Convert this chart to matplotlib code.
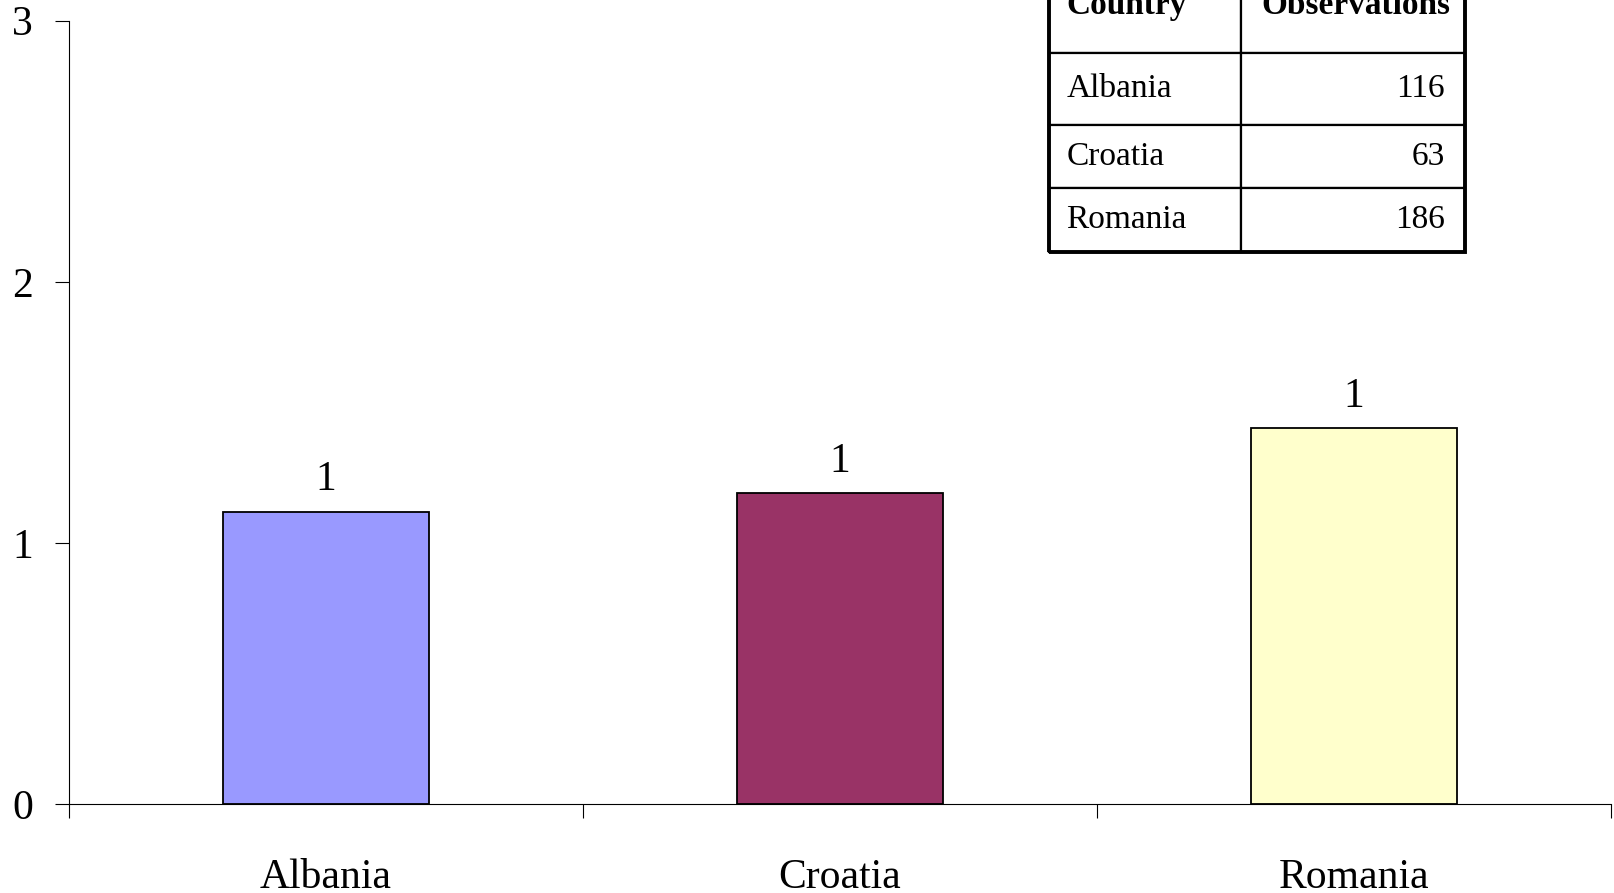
import numpy as np
import matplotlib.pyplot as plt
from matplotlib.patches import Rectangle

# data
countries = ['Albania', 'Croatia', 'Romania']
values = [1.12, 1.19, 1.44]
observations = [116, 63, 186]
bar_colors = ['#9999FF', '#993366', '#FFFFCC']

plt.rcParams['font.family'] = ['Liberation Serif', 'DejaVu Serif']

fig = plt.figure(figsize=(16.14, 8.93), dpi=100)
ax = fig.add_axes([69 / 1614, 89 / 893, 1542 / 1614, 783.3 / 893])

x = np.arange(len(countries)) + 0.5
bars = ax.bar(x, values, width=0.4, color=bar_colors, edgecolor='black', linewidth=1.3)
ax.bar_label(bars, fmt='%.0f', padding=9, fontsize=30)

ax.set_xlim(0, 3)
ax.set_ylim(0, 3)
ax.set_yticks([0, 1, 2, 3])
ax.set_xticks(x)
ax.set_xticklabels(countries)
ax.set_xticks([0, 1, 2, 3], minor=True)
ax.tick_params(axis='x', which='major', length=0, pad=39, labelsize=30)
ax.tick_params(axis='x', which='minor', length=10, width=0.8, direction='out')
ax.tick_params(axis='y', length=10, width=0.8, pad=16, labelsize=30)
for s in ['top', 'right']:
    ax.spines[s].set_visible(False)
for s in ['left', 'bottom']:
    ax.spines[s].set_linewidth(0.8)

# observations table, top row runs off the figure
cell_text = [[c, str(n)] for c, n in zip(countries, observations)]
tx0, tx1 = (1049 - 69) / 1542, (1465 - 69) / 1542
ty1, ty0 = (804 + 42) / 783.3, (804 - 252) / 783.3
tab = ax.table(cellText=cell_text, colLabels=['Country', 'Observations'],
               bbox=[tx0, ty0, tx1 - tx0, ty1 - ty0], cellLoc='left', colLoc='left')
tab.auto_set_font_size(False)
tab.set_fontsize(24)
row_h = [95, 72, 63.5, 64]
col_w = [192, 224]
for (r, c), cell in tab.get_celld().items():
    cell.set_height(row_h[r])
    cell.set_width(col_w[c])
    cell.set_linewidth(1.6)
    cell.PAD = 0.09
    cell.set_clip_on(False)
    if r == 0:
        cell.get_text().set_fontweight('bold')
    elif c == 1:
        cell.get_text().set_horizontalalignment('right')
        cell._loc = 'right'
ax.add_patch(Rectangle((tx0, ty0), tx1 - tx0, ty1 - ty0, transform=ax.transAxes,
                       fill=False, linewidth=2.8, edgecolor='black', clip_on=False, zorder=5))

fig.savefig('out.png', dpi=100)
